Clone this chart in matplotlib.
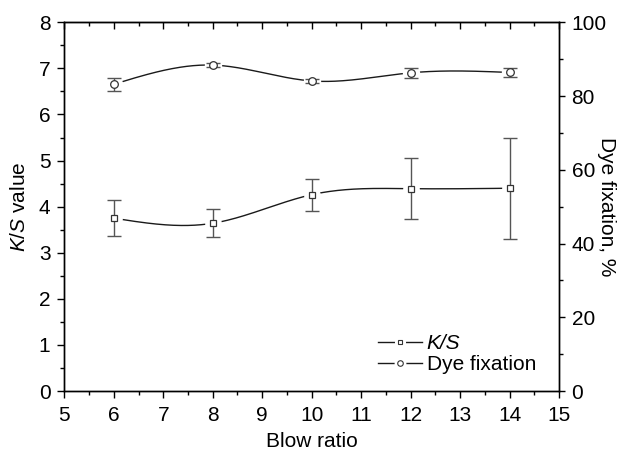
import numpy as np
import matplotlib
matplotlib.use("Agg")
import matplotlib.pyplot as plt
from matplotlib.ticker import MultipleLocator
from matplotlib.legend_handler import HandlerTuple

plt.rcParams['font.family'] = ['Liberation Sans', 'DejaVu Sans']
plt.rcParams['mathtext.fontset'] = 'custom'
plt.rcParams['mathtext.rm'] = 'Liberation Sans'
plt.rcParams['mathtext.it'] = 'Liberation Sans:italic'

blow_ratio = [6, 8, 10, 12, 14]
ks_value = [3.75, 3.64, 4.26, 4.39, 4.40]
ks_err = [0.39, 0.30, 0.35, 0.66, 1.10]
dye_fix = [83.2, 88.4, 84.1, 86.3, 86.4]
dye_err = [1.7, 0.6, 0.5, 1.3, 1.3]


def smooth(x, y, n=300):
    # natural cubic spline, only used to draw the curve between the points
    x = np.asarray(x, float)
    y = np.asarray(y, float)
    h = np.diff(x)
    k = len(x)
    A = np.zeros((k, k))
    b = np.zeros(k)
    A[0, 0] = A[-1, -1] = 1
    for i in range(1, k - 1):
        A[i, i - 1] = h[i - 1]
        A[i, i] = 2 * (h[i - 1] + h[i])
        A[i, i + 1] = h[i]
        b[i] = 6 * ((y[i + 1] - y[i]) / h[i] - (y[i] - y[i - 1]) / h[i - 1])
    M = np.linalg.solve(A, b)
    xs = np.linspace(x[0], x[-1], n)
    j = np.clip(np.searchsorted(x, xs) - 1, 0, k - 2)
    t0 = x[j + 1] - xs
    t1 = xs - x[j]
    hj = h[j]
    ys = (M[j] * t0 ** 3 + M[j + 1] * t1 ** 3) / (6 * hj) \
        + (y[j] / hj - M[j] * hj / 6) * t0 + (y[j + 1] / hj - M[j + 1] * hj / 6) * t1
    return xs, ys


fig = plt.figure(figsize=(6.38, 4.5), dpi=100)
ax = fig.add_axes([0.1008, 0.1311, 0.7755, 0.8193])
ax2 = ax.twinx()

line_col = '#1a1a1a'
err_col = '#555555'
fs = 15


def draw(a, x, y, err, marker, ms):
    xs, ys = smooth(x, y)
    a.plot(xs, ys, color=line_col, lw=1.0, zorder=1)
    # white disc under each marker so the curve stops short of it
    a.plot(x, y, ls='none', marker='o', ms=ms + 6, mfc='white', mec='white', zorder=2)
    a.errorbar(x, y, yerr=err, fmt='none', ecolor=err_col, elinewidth=1.0,
               capsize=5, capthick=1.0, zorder=3)
    a.plot(x, y, ls='none', marker=marker, ms=ms, mfc='white', mec='#333333',
           mew=0.9, zorder=4)


draw(ax, blow_ratio, ks_value, ks_err, 's', 5)
draw(ax2, blow_ratio, dye_fix, dye_err, 'o', 5.5)


def legend_handle(a, marker, ms):
    ln, = a.plot([], [], color=line_col, lw=1.0)
    gap, = a.plot([], [], ls='none', marker='o', ms=ms + 3.5, mfc='white', mec='white')
    mk, = a.plot([], [], ls='none', marker=marker, ms=ms, mfc='white', mec='#333333', mew=0.8)
    return (ln, gap, mk)


ks_handle = legend_handle(ax, 's', 3.5)
dye_handle = legend_handle(ax, 'o', 4.0)

ax.set_xlim(5, 15)
ax.set_ylim(0, 8)
ax2.set_ylim(0, 100)

ax.xaxis.set_major_locator(MultipleLocator(1))
ax.xaxis.set_minor_locator(MultipleLocator(0.5))
ax.yaxis.set_major_locator(MultipleLocator(1))
ax.yaxis.set_minor_locator(MultipleLocator(0.5))
ax2.yaxis.set_major_locator(MultipleLocator(20))
ax2.yaxis.set_minor_locator(MultipleLocator(10))

ax.tick_params(axis='both', which='major', direction='out', length=5, width=1.0,
               labelsize=fs)
ax.tick_params(axis='both', which='minor', direction='out', length=2.7, width=1.0)
ax.tick_params(axis='x', which='major', pad=5.5)
ax.tick_params(axis='y', which='major', pad=5)
ax2.tick_params(axis='y', which='major', direction='out', length=4.5, width=1.0,
                labelsize=fs, pad=4.5)
ax2.tick_params(axis='y', which='minor', direction='out', length=2.7, width=1.0)

top = ax.secondary_xaxis('top')
top.xaxis.set_major_locator(MultipleLocator(1))
top.xaxis.set_minor_locator(MultipleLocator(0.5))
top.tick_params(axis='x', which='major', direction='in', length=5, width=1.0, labeltop=False)
top.tick_params(axis='x', which='minor', direction='in', length=2.7, width=1.0)

for a in (ax, ax2):
    for s in a.spines.values():
        s.set_linewidth(1.0)

ax.set_xlabel('Blow ratio', fontsize=fs, labelpad=5)
ax.set_ylabel(r'$\mathit{K/S}$ value', fontsize=fs, labelpad=7)
ax2.set_ylabel('Dye fixation, %', fontsize=fs, rotation=270, va='bottom')
ax2.yaxis.set_label_coords(1.076, 0.5)

leg = ax.legend([ks_handle, dye_handle], ['K/S', 'Dye fixation'], loc='center left',
                bbox_to_anchor=(0.635, 0.1), frameon=False, fontsize=fs,
                handler_map={tuple: HandlerTuple(ndivide=1, pad=0)},
                handlelength=2.07, handletextpad=0.25, labelspacing=0.1,
                borderpad=0, borderaxespad=0)
leg.get_texts()[0].set_fontstyle('italic')

fig.savefig('out.png', dpi=100)
